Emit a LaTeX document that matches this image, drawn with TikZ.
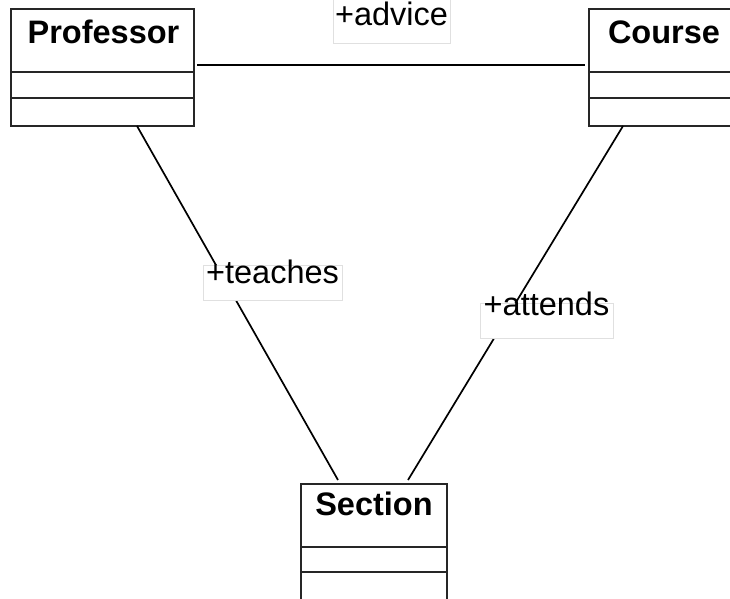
\documentclass[tikz,border=0pt]{standalone}
\usepackage{fontspec}
\setmainfont{Liberation Sans}
\begin{document}
\begin{tikzpicture}[x=1pt,y=-1pt,
  cls/.style={draw=black!85, line width=2pt, fill=none, inner sep=0pt, anchor=north west},
  ttl/.style={font=\fontsize{32.5}{36}\selectfont\bfseries, anchor=base, inner sep=0pt},
  lbl/.style={draw=black!12, line width=0.8pt, fill=white, inner sep=0pt, anchor=base,
    font=\fontsize{32.5}{36}\selectfont},
  div/.style={draw=black!85, line width=2pt},
  assoc/.style={draw=black, line width=1.7pt}]
\clip (0,0) rectangle (730,598);
\useasboundingbox (0,0) rectangle (730,598);
% classes
\node[cls, minimum width=183pt, minimum height=117pt] (prof) at (10,8) {};
\node[ttl] (proft) at (103.5,43) {Professor};
\draw[div] (10,72) -- (195,72);
\draw[div] (10,98) -- (195,98);
\node[cls, minimum width=183pt, minimum height=117pt] (course) at (588,8) {};
\node[ttl] (courset) at (664,43) {Course};
\draw[div] (588,72) -- (771,72);
\draw[div] (588,98) -- (771,98);
\node[cls, minimum width=146pt, minimum height=130pt] (sect) at (300,483) {};
\node[ttl] (sectt) at (374,515) {Section};
\draw[div] (300,547) -- (448,547);
\draw[div] (300,572) -- (448,572);
% connector ends
\coordinate (pa) at (197,65);
\coordinate (ca) at (585,65);
\coordinate (ps) at (137,126);
\coordinate (sp) at (338,480);
\coordinate (cs) at (623,126);
\coordinate (sc) at (408,480);
\draw[assoc] (pa) -- (ca);
\draw[assoc] (ps) -- (sp);
\draw[assoc] (cs) -- (sc);
% labels
\node[lbl, minimum width=117pt, text height=27pt, text depth=18pt] (ladv) at (391.5,25) {+advice};
\node[lbl, minimum width=139pt, text height=18pt, text depth=17pt] (lteach) at (272.5,283) {+teaches};
\node[lbl, minimum width=133pt, text height=12pt, text depth=23pt] (latt) at (546.5,315) {+attends};
\end{tikzpicture}
\end{document}
